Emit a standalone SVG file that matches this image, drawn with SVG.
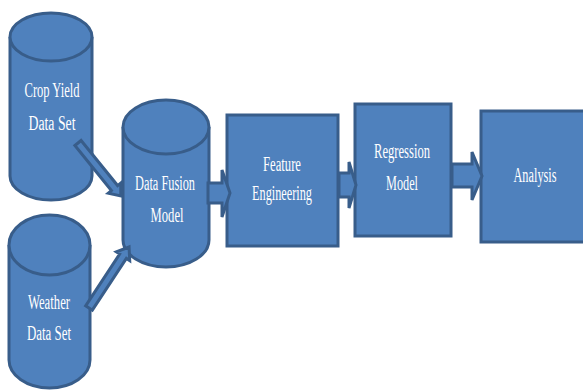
<svg xmlns="http://www.w3.org/2000/svg" width="583" height="391" viewBox="0 0 583 391">
  <style>
    .shape { fill: #4F81BD; stroke: #385D8A; stroke-width: 3; }
    .lbl { fill: #ffffff; font-family: "Liberation Serif", "Times New Roman", serif; font-size: 20px; text-anchor: middle; }
  </style>
  <rect width="583" height="391" fill="#ffffff"/>

  <!-- Crop Yield data store -->
  <g id="crop-yield">
    <path class="shape" d="M10,37 L10,176 A41,24 0 0 0 92,176 L92,37"/>
    <ellipse class="shape" cx="51" cy="37" rx="41" ry="24"/>
    <text class="lbl" x="52" y="97" textLength="55" lengthAdjust="spacingAndGlyphs">Crop Yield</text>
    <text class="lbl" x="52" y="130" textLength="47" lengthAdjust="spacingAndGlyphs">Data Set</text>
  </g>

  <!-- Weather data store -->
  <g id="weather">
    <path class="shape" d="M9,245 L9,360 A40.5,28 0 0 0 90,360 L90,245"/>
    <ellipse class="shape" cx="49.5" cy="245" rx="40.5" ry="30"/>
    <text class="lbl" x="49" y="309" textLength="42" lengthAdjust="spacingAndGlyphs">Weather</text>
    <text class="lbl" x="49" y="340" textLength="44" lengthAdjust="spacingAndGlyphs">Data Set</text>
  </g>

  <!-- Data Fusion model store -->
  <g id="data-fusion">
    <path class="shape" d="M123,127 L123,240 A43,27 0 0 0 209,240 L209,127"/>
    <ellipse class="shape" cx="166" cy="127" rx="43" ry="27"/>
    <text class="lbl" x="165" y="190" textLength="60" lengthAdjust="spacingAndGlyphs">Data Fusion</text>
    <text class="lbl" x="167" y="222" textLength="33" lengthAdjust="spacingAndGlyphs">Model</text>
  </g>

  <!-- Feature Engineering step -->
  <g id="feature-engineering">
    <rect class="shape" x="227" y="115" width="111" height="131"/>
    <text class="lbl" x="282" y="171" textLength="38" lengthAdjust="spacingAndGlyphs">Feature</text>
    <text class="lbl" x="282" y="200" textLength="60" lengthAdjust="spacingAndGlyphs">Engineering</text>
  </g>

  <!-- Regression Model step -->
  <g id="regression-model">
    <rect class="shape" x="355" y="104" width="96" height="132"/>
    <text class="lbl" x="402" y="158" textLength="56" lengthAdjust="spacingAndGlyphs">Regression</text>
    <text class="lbl" x="402" y="190" textLength="32" lengthAdjust="spacingAndGlyphs">Model</text>
  </g>

  <!-- Analysis step -->
  <g id="analysis">
    <rect class="shape" x="481" y="111" width="112" height="131"/>
    <text class="lbl" x="535" y="182" textLength="43" lengthAdjust="spacingAndGlyphs">Analysis</text>
  </g>

  <!-- Block arrows between steps -->
  <g id="connectors">
    <g transform="translate(78,143) rotate(51)">
      <polygon class="shape" stroke-width="2" points="0,-4 58,-4 58,-8 68,0 58,8 58,4 0,4"/>
    </g>
    <g transform="translate(89,308) rotate(-56.7)">
      <polygon class="shape" stroke-width="2" points="0,-4 62,-4 62,-8 73,0 62,8 62,4 0,4"/>
    </g>
    <polygon class="shape" points="208,183 222,183 222,170 230,193 222,217 222,203 208,203"/>
    <polygon class="shape" points="339,173 349,173 349,162 356,185 349,208 349,197 339,197"/>
    <polygon class="shape" points="452,164 472,164 472,152 482,176 472,200 472,187 452,187"/>
  </g>
</svg>
